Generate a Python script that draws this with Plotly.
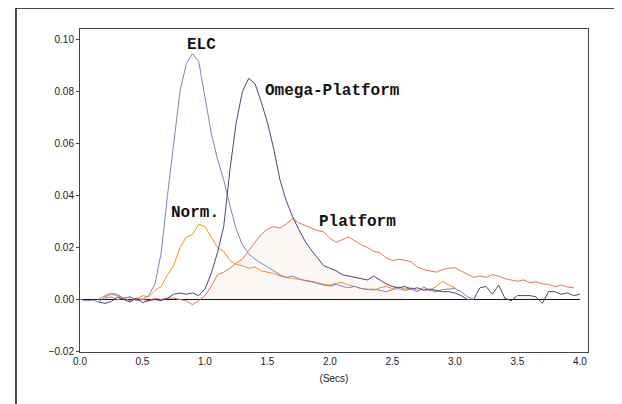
import numpy as np
import plotly.graph_objects as go

# ---- data ----
elc_x = [round(0.05 * i, 2) for i in range(0, 64)]
elc_y = [0.0000, -0.0005, -0.0003, -0.0010, 0.0010, 0.0020, 0.0015, 0.0005, 0.0010, -0.0005,
         0.0000, 0.0015, 0.0060, 0.0180, 0.0400, 0.0600, 0.0800, 0.0905, 0.0945, 0.0915,
         0.0780, 0.0640, 0.0540, 0.0460, 0.0360, 0.0270, 0.0210, 0.0175, 0.0155, 0.0140,
         0.0125, 0.0110, 0.0095, 0.0085, 0.0090, 0.0080, 0.0072, 0.0068, 0.0060, 0.0055,
         0.0052, 0.0058, 0.0050, 0.0045, 0.0050, 0.0042, 0.0038, 0.0040, 0.0035, 0.0030,
         0.0038, 0.0042, 0.0035, 0.0040, 0.0030, 0.0048, 0.0035, 0.0030, 0.0038, 0.0040,
         0.0042, 0.0030, 0.0010, 0.0000]

omega_x = [round(0.15 + 0.05 * i, 2) for i in range(0, 78)]
omega_y = [-0.0010, -0.0015, -0.0008, 0.0010, 0.0000, -0.0010, 0.0005, -0.0012, -0.0005, 0.0000,
           -0.0005, 0.0005, 0.0020, 0.0025, 0.0020, 0.0025, 0.0015, 0.0040, 0.0100, 0.0180,
           0.0280, 0.0500, 0.0680, 0.0800, 0.0850, 0.0830, 0.0760, 0.0680, 0.0580, 0.0460,
           0.0380, 0.0320, 0.0270, 0.0225, 0.0190, 0.0160, 0.0130, 0.0120, 0.0110, 0.0095,
           0.0090, 0.0085, 0.0080, 0.0075, 0.0090, 0.0075, 0.0060, 0.0050, 0.0045, 0.0050,
           0.0040, 0.0045, 0.0035, 0.0040, 0.0035, 0.0030, 0.0030, 0.0025, 0.0015, 0.0000,
           0.0000, 0.0045, 0.0050, 0.0020, 0.0055, 0.0005, -0.0005, 0.0015, 0.0015, 0.0015,
           0.0010, -0.0015, 0.0030, 0.0030, 0.0020, 0.0025, 0.0015, 0.0020]

norm_x = [round(0.15 + 0.05 * i, 2) for i in range(0, 58)]
norm_y = [0.0000, 0.0015, 0.0025, 0.0020, 0.0005, 0.0010, 0.0000, 0.0015, 0.0010, 0.0035,
          0.0050, 0.0095, 0.0130, 0.0200, 0.0240, 0.0250, 0.0290, 0.0280, 0.0240, 0.0200,
          0.0185, 0.0150, 0.0135, 0.0130, 0.0120, 0.0125, 0.0110, 0.0105, 0.0100, 0.0090,
          0.0085, 0.0080, 0.0078, 0.0075, 0.0070, 0.0065, 0.0058, 0.0055, 0.0062, 0.0065,
          0.0055, 0.0050, 0.0042, 0.0040, 0.0035, 0.0045, 0.0050, 0.0042, 0.0048, 0.0040,
          0.0045, 0.0035, 0.0040, 0.0035, 0.0050, 0.0070, 0.0055, 0.0045]

plat_x = [round(0.20 + 0.05 * i, 2) for i in range(0, 76)]
plat_y = [0.0005, 0.0010, 0.0000, 0.0005, -0.0005, 0.0005, 0.0000, -0.0005, 0.0005, 0.0000,
          0.0005, 0.0005, 0.0000, -0.0005, -0.0020, -0.0005, 0.0015, 0.0050, 0.0095, 0.0105,
          0.0120, 0.0140, 0.0155, 0.0190, 0.0220, 0.0250, 0.0270, 0.0280, 0.0275, 0.0290,
          0.0310, 0.0295, 0.0285, 0.0275, 0.0265, 0.0260, 0.0235, 0.0220, 0.0230, 0.0240,
          0.0225, 0.0210, 0.0200, 0.0185, 0.0180, 0.0160, 0.0150, 0.0155, 0.0150, 0.0145,
          0.0125, 0.0115, 0.0110, 0.0105, 0.0115, 0.0120, 0.0122, 0.0110, 0.0100, 0.0085,
          0.0090, 0.0085, 0.0095, 0.0090, 0.0080, 0.0075, 0.0070, 0.0075, 0.0065, 0.0068,
          0.0060, 0.0058, 0.0050, 0.0055, 0.0048, 0.0045]

labels = ["ELC", "Omega-Platform", "Norm.", "Platform"]
y_ticks = [-0.02, 0.00, 0.02, 0.04, 0.06, 0.08, 0.10]
x_ticks = [0.0, 0.5, 1.0, 1.5, 2.0, 2.5, 3.0, 3.5, 4.0]

# shaded area beneath Platform / Omega-Platform
fill_x = np.linspace(0.95, 2.6, 200)
fill_y = np.clip(np.minimum(np.interp(fill_x, plat_x, plat_y),
                            np.interp(fill_x, omega_x, omega_y)), 0, None)

fig = go.Figure()
fig.add_trace(go.Scatter(x=fill_x, y=fill_y, mode="lines", line=dict(width=0),
                         fill="tozeroy", fillcolor="#fcf8f6", hoverinfo="skip"))
fig.add_trace(go.Scatter(x=[0, 4.0], y=[0, 0], mode="lines",
                         line=dict(color="#111111", width=1)))
fig.add_trace(go.Scatter(x=plat_x, y=plat_y, mode="lines", name=labels[3],
                         line=dict(color="#e4765c", width=1)))
fig.add_trace(go.Scatter(x=norm_x, y=norm_y, mode="lines", name=labels[2],
                         line=dict(color="#f5901e", width=1)))
fig.add_trace(go.Scatter(x=elc_x, y=elc_y, mode="lines", name=labels[0],
                         line=dict(color="#7c84c4", width=1)))
fig.add_trace(go.Scatter(x=omega_x, y=omega_y, mode="lines", name=labels[1],
                         line=dict(color="#54417e", width=1)))

lab_font = dict(family="Liberation Mono, Courier New, monospace", size=16, color="#111111")
fig.add_annotation(x=0.974, y=0.0979, text="<b>ELC</b>", showarrow=False,
                   xanchor="center", yanchor="middle", font=lab_font)
fig.add_annotation(x=1.466, y=0.0802, text="<b>Omega-Platform</b>", showarrow=False,
                   xanchor="left", yanchor="middle", font=lab_font)
fig.add_annotation(x=0.924, y=0.0334, text="<b>Norm.</b>", showarrow=False,
                   xanchor="center", yanchor="middle", font=lab_font)
fig.add_annotation(x=1.90, y=0.0297, text="<b>Platform</b>", showarrow=False,
                   xanchor="left", yanchor="middle", font=lab_font)

# outer frame
fig.add_shape(type="rect", xref="paper", yref="paper", x0=-0.126, x1=1.059,
              y0=-0.3, y1=1.065, line=dict(color="#111111", width=1.5))
fig.add_shape(type="line", xref="paper", yref="paper", x0=1.062, x1=1.062,
              y0=-0.3, y1=1.2, line=dict(color="#777777", width=2))

tick_font = dict(family="Liberation Sans, Arial, sans-serif", size=10, color="#222222")
fig.update_layout(
    width=614, height=396,
    margin=dict(l=72, r=34, t=21, b=52),
    paper_bgcolor="white", plot_bgcolor="white",
    showlegend=False,
    xaxis=dict(range=[0, 4.065], tickvals=x_ticks, tickformat=".1f",
               showgrid=False, zeroline=False, showline=True, linecolor="#444444",
               linewidth=1, mirror=True, ticks="", tickfont=tick_font,
               title=dict(text="(Secs)", font=tick_font, standoff=8)),
    yaxis=dict(range=[-0.0202, 0.104], tickvals=y_ticks, tickformat=".2f",
               showgrid=False, zeroline=False, showline=True, linecolor="#444444",
               linewidth=1, mirror=True, ticks="outside", ticklen=3,
               tickcolor="#444444", tickfont=tick_font),
)

fig.write_html("out.html")
